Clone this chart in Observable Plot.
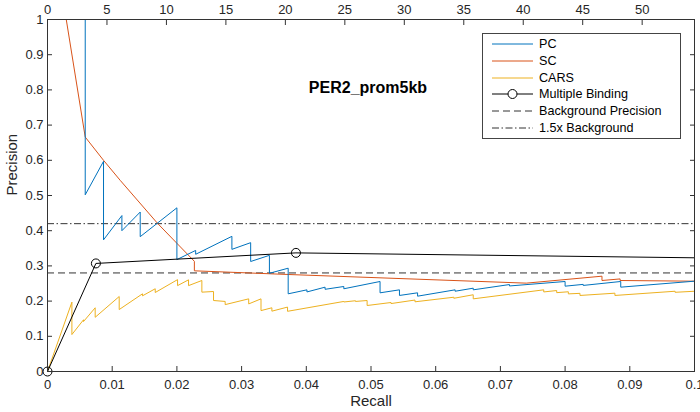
<!DOCTYPE html>
<html>
<head>
<meta charset="utf-8">
<script src="https://cdn.jsdelivr.net/npm/d3@7"></script>
<script src="https://cdn.jsdelivr.net/npm/@observablehq/plot@0.6"></script>
<style>
  body { margin: 0; background: #fff; }
  #wrap { position: relative; width: 700px; height: 412px; font-family: "Liberation Sans", Arial, Helvetica, sans-serif; color: #262626; }
  #title { position: absolute; left: 368px; top: 88px; transform: translate(-50%, -50%); font-weight: bold; font-size: 16px; color: #000; white-space: nowrap; }
  #legend { position: absolute; left: 482px; top: 33px; width: 199px; height: 106px; border: 1px solid #444; background: #fff; box-sizing: border-box; font-size: 12.6px; padding-top: 2px; }
  .row { height: 16.7px; display: flex; align-items: center; }
  .row svg { margin-left: 9px; margin-right: 6px; flex: none; }
  .row span { white-space: nowrap; color: #000; }
</style>
</head>
<body>
<div id="wrap">
  <div id="chart"></div>
  <div id="title">PER2_prom5kb</div>
  <div id="legend"></div>
</div>
<script>
// ---- data ----
const xTicks = [0, 0.01, 0.02, 0.03, 0.04, 0.05, 0.06, 0.07, 0.08, 0.09, 0.1];
const yTicks = [0, 0.1, 0.2, 0.3, 0.4, 0.5, 0.6, 0.7, 0.8, 0.9, 1];
const topTicks = [0, 5, 10, 15, 20, 25, 30, 35, 40, 45, 50];
const topMax = 54.4;     // top-axis value at recall = 0.1
const recallMax = 0.1;

const seriesNames = ["PC", "SC", "CARS", "Multiple Binding", "Background Precision", "1.5x Background"];
const seriesColors = ["#0072BD", "#D95319", "#EDB120", "#000000", "#333333", "#333333"];

const pcRecall = [0.00583, 0.00583, 0.00866, 0.00866, 0.0115, 0.0115, 0.01433, 0.01433, 0.0200, 0.0200,
  0.0229, 0.0229, 0.0285, 0.0285, 0.0314, 0.0314, 0.0343, 0.0343, 0.0372, 0.0372,
  0.0401, 0.0401, 0.0429, 0.0429, 0.0458, 0.0458, 0.0514, 0.0514, 0.0544, 0.0544,
  0.0572, 0.0572, 0.0630, 0.0630, 0.0658, 0.0658, 0.0714, 0.0714, 0.0800, 0.0800,
  0.0828, 0.0828, 0.0886, 0.0886, 0.1];
const pcPrecision = [1.0, 0.502, 0.597, 0.374, 0.443, 0.400, 0.453, 0.383, 0.465, 0.318,
  0.344, 0.333, 0.384, 0.347, 0.366, 0.3125, 0.330, 0.279, 0.2935, 0.2207,
  0.232, 0.226, 0.2396, 0.2335, 0.2415, 0.235, 0.2557, 0.2235, 0.232, 0.216,
  0.2235, 0.214, 0.232, 0.228, 0.2367, 0.232, 0.247, 0.243, 0.2557, 0.2424,
  0.2475, 0.2445, 0.2557, 0.2396, 0.2566];

const scRecall = [0.0029, 0.00583, 0.00866, 0.01124, 0.017, 0.0227, 0.0227, 0.0372, 0.0740,
  0.0857, 0.0857, 0.0885, 0.0885, 0.1];
const scPrecision = [1.0, 0.666, 0.600, 0.543, 0.421, 0.313, 0.286, 0.2756, 0.251,
  0.2708, 0.2585, 0.263, 0.2585, 0.2566];

const carsRecall = [0, 0.00377, 0.00377, 0.00557, 0.00557, 0.00737, 0.00737, 0.01108, 0.01108,
  0.01468, 0.01468, 0.01665, 0.01665, 0.0201, 0.0201, 0.0218, 0.0218, 0.02386, 0.02386,
  0.02566, 0.02566, 0.02746, 0.02746, 0.0311, 0.0311, 0.0330, 0.0330, 0.03468, 0.03468,
  0.0371, 0.0371, 0.0458, 0.0458, 0.0476, 0.0476, 0.0494, 0.0494, 0.0531, 0.0531,
  0.0568, 0.0568, 0.0628, 0.0628, 0.0658, 0.0658, 0.0767, 0.0767, 0.0787, 0.0787,
  0.0805, 0.0805, 0.0823, 0.0823, 0.0877, 0.0877, 0.0970, 0.0970, 0.1];
const carsPrecision = [0, 0.197, 0.105, 0.147, 0.142, 0.181, 0.154, 0.213, 0.176,
  0.2207, 0.215, 0.235, 0.2244, 0.261, 0.244, 0.2604, 0.244, 0.2585, 0.2254,
  0.2273, 0.2017, 0.199, 0.190, 0.2064, 0.192, 0.2064, 0.173, 0.181, 0.1714,
  0.183, 0.171, 0.199, 0.1975, 0.201, 0.199, 0.2017, 0.1875, 0.196, 0.193,
  0.203, 0.198, 0.211, 0.208, 0.218, 0.2064, 0.232, 0.226, 0.230, 0.224,
  0.2265, 0.2205, 0.222, 0.216, 0.2225, 0.216, 0.228, 0.225, 0.228];

const mbRecall = [0, 0.00748, 0.0384, 0.1];
const mbPrecision = [0, 0.307, 0.337, 0.323];
const mbMarked = [true, true, true, false];

const backgroundLevels = [0.28, 0.42];   // background precision, 1.5x background

// ---- build ----
const rows = (r, p) => r.map((x, i) => ({r: x, p: p[i]}));
const pc = rows(pcRecall, pcPrecision);
const sc = rows(scRecall, scPrecision);
const cars = rows(carsRecall, carsPrecision);
const mb = rows(mbRecall, mbPrecision);
const mbDots = mb.filter((d, i) => mbMarked[i]);

const dashBg = "7,4";
const dashDot = "7,2.5,1.5,2.5";

const chart = Plot.plot({
  width: 700, height: 412,
  marginLeft: 47, marginRight: 6, marginTop: 19, marginBottom: 41,
  style: {fontFamily: "Liberation Sans, Arial, Helvetica, sans-serif", fontSize: "13px", color: "#262626", background: "white", overflow: "visible"},
  x: {domain: [0, recallMax]},
  y: {domain: [0, 1]},
  marks: [
    Plot.ruleY([backgroundLevels[0]], {stroke: seriesColors[4], strokeWidth: 1, strokeDasharray: dashBg}),
    Plot.ruleY([backgroundLevels[1]], {stroke: seriesColors[5], strokeWidth: 1, strokeDasharray: dashDot}),
    Plot.line(cars, {x: "r", y: "p", stroke: seriesColors[2], strokeWidth: 1}),
    Plot.line(sc, {x: "r", y: "p", stroke: seriesColors[1], strokeWidth: 1}),
    Plot.line(pc, {x: "r", y: "p", stroke: seriesColors[0], strokeWidth: 1}),
    Plot.line(mb, {x: "r", y: "p", stroke: seriesColors[3], strokeWidth: 1}),
    Plot.dot(mbDots, {x: "r", y: "p", r: 4.5, stroke: seriesColors[3], fill: "none", strokeWidth: 1}),
    Plot.frame({stroke: "#333", strokeWidth: 1}),
    Plot.axisX({ticks: xTicks, anchor: "bottom", tickSize: -5, tickPadding: 13, tickFormat: d => String(d), label: null, stroke: "#333"}),
    Plot.axisX({ticks: topTicks.map(t => t / topMax * recallMax), anchor: "top", tickSize: -5, tickPadding: 11,
      tickFormat: d => String(Math.round(d * topMax / recallMax)), label: null, stroke: "#333"}),
    Plot.axisY({ticks: yTicks, anchor: "left", tickSize: -5, tickPadding: 9, tickFormat: d => String(d), label: null, stroke: "#333"}),
    Plot.axisY({ticks: yTicks, anchor: "right", tickSize: -5, tickFormat: () => "", label: null, stroke: "#333"}),
    Plot.text(["Recall"], {frameAnchor: "bottom", dy: 34, fontSize: 15, fill: "#262626"}),
    Plot.text(["Precision"], {frameAnchor: "left", dx: -35, rotate: -90, fontSize: 15, fill: "#262626"})
  ]
});
document.getElementById("chart").appendChild(chart);

// ---- legend ----
const legend = document.getElementById("legend");
const dashes = [null, null, null, null, dashBg, dashDot];
seriesNames.forEach((name, i) => {
  const row = document.createElement("div");
  row.className = "row";
  const ns = "http://www.w3.org/2000/svg";
  const svg = document.createElementNS(ns, "svg");
  svg.setAttribute("width", 41); svg.setAttribute("height", 12);
  const ln = document.createElementNS(ns, "line");
  ln.setAttribute("x1", 0); ln.setAttribute("x2", 41); ln.setAttribute("y1", 6); ln.setAttribute("y2", 6);
  ln.setAttribute("stroke", seriesColors[i]); ln.setAttribute("stroke-width", 1);
  if (dashes[i]) ln.setAttribute("stroke-dasharray", dashes[i]);
  svg.appendChild(ln);
  if (i === 3) {
    const c = document.createElementNS(ns, "circle");
    c.setAttribute("cx", 20.5); c.setAttribute("cy", 6); c.setAttribute("r", 4.5);
    c.setAttribute("fill", "white"); c.setAttribute("stroke", "#000");
    svg.appendChild(c);
  }
  row.appendChild(svg);
  const sp = document.createElement("span");
  sp.textContent = name;
  row.appendChild(sp);
  legend.appendChild(row);
});
</script>
</body>
</html>
